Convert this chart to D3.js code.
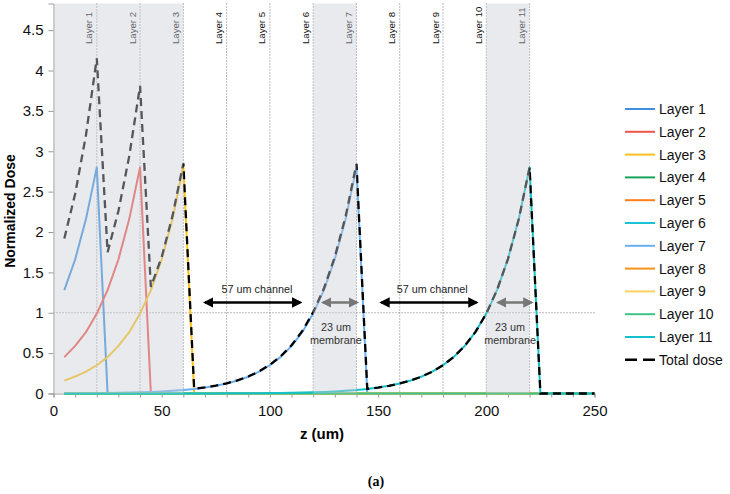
<!DOCTYPE html>
<html>
<head>
<meta charset="utf-8">
<script src="https://cdn.jsdelivr.net/npm/d3@7"></script>
<style>
  body { margin: 0; background: #fff; }
  text { font-family: "Liberation Sans", Arial, Helvetica, sans-serif; }
</style>
</head>
<body>
<script>
// depth positions (um)
var zValues = [5,10,15,20,25,30,35,40,45,50,
               55,60,65,70,75,80,85,90,95,100,
               105,110,115,120,125,130,135,140,145,150,
               155,160,165,170,175,180,185,190,195,200,
               205,210,215,220,225,230,235,240,245,250];

var layer1 = [1.28,1.66,2.16,2.80,0,0,0,0,0,0,
              0,0,0,0,0,0,0,0,0,0, 0,0,0,0,0,0,0,0,0,0,
              0,0,0,0,0,0,0,0,0,0, 0,0,0,0,0,0,0,0,0,0];
var layer2 = [0.45,0.59,0.76,0.99,1.28,1.66,2.16,2.80,0,0,
              0,0,0,0,0,0,0,0,0,0, 0,0,0,0,0,0,0,0,0,0,
              0,0,0,0,0,0,0,0,0,0, 0,0,0,0,0,0,0,0,0,0];
var layer3 = [0.16,0.21,0.27,0.35,0.45,0.59,0.76,0.99,1.28,1.66,
              2.16,2.82,0,0,0,0,0,0,0,0, 0,0,0,0,0,0,0,0,0,0,
              0,0,0,0,0,0,0,0,0,0, 0,0,0,0,0,0,0,0,0,0];
var layer4 = [0,0,0,0,0,0,0,0,0,0, 0,0,0,0,0,0,0,0,0,0, 0,0,0,0,0,0,0,0,0,0,
              0,0,0,0,0,0,0,0,0,0, 0,0,0,0,0,0,0,0,0,0];
var layer5 = [0,0,0,0,0,0,0,0,0,0, 0,0,0,0,0,0,0,0,0,0, 0,0,0,0,0,0,0,0,0,0,
              0,0,0,0,0,0,0,0,0,0, 0,0,0,0,0,0,0,0,0,0];
var layer6 = [0,0,0,0,0,0,0,0,0,0, 0,0,0,0,0,0,0,0,0,0, 0,0,0,0,0,0,0,0,0,0,
              0,0,0,0,0,0,0,0,0,0, 0,0,0,0,0,0,0,0,0,0];
var layer7 = [0.0025,0.003,0.004,0.0055,0.007,0.009,0.012,0.0155,0.02,0.026,
              0.034,0.044,0.057,0.074,0.095,0.124,0.16,0.208,0.27,0.35,
              0.454,0.588,0.763,0.99,1.284,1.665,2.16,2.80,0,0,
              0,0,0,0,0,0,0,0,0,0, 0,0,0,0,0,0,0,0,0,0];
var layer8 = [0,0,0,0,0,0,0,0,0,0, 0,0,0,0,0,0,0,0,0,0, 0,0,0,0,0,0,0,0,0,0,
              0,0,0,0,0,0,0,0,0,0, 0,0,0,0,0,0,0,0,0,0];
var layer9 = [0,0,0,0,0,0,0,0,0,0, 0,0,0,0,0,0,0,0,0,0, 0,0,0,0,0,0,0,0,0,0,
              0,0,0,0,0,0,0,0,0,0, 0,0,0,0,0,0,0,0,0,0];
var layer10 = [0,0,0,0,0,0,0,0,0,0, 0,0,0,0,0,0,0,0,0,0, 0,0,0,0,0,0,0,0,0,0,
               0,0,0,0,0,0,0,0,0,0, 0,0,0,0,0,0,0,0,0,0];
var layer11 = [0,0,0,0,0,0,0,0,0.001,0.001,
               0.001,0.001,0.001,0.0012,0.0015,0.002,0.0025,0.003,0.004,0.0055,
               0.007,0.009,0.012,0.0155,0.02,0.026,0.034,0.044,0.057,0.074,
               0.095,0.124,0.16,0.208,0.27,0.35,0.454,0.588,0.763,0.99,
               1.284,1.665,2.16,2.80,0,0,0,0,0,0];
var totalDose = [1.92,2.47,3.20,4.15,1.75,2.26,2.94,3.81,1.32,1.69,
                 2.20,2.85,0.06,0.075,0.097,0.126,0.163,0.211,0.274,0.356,
                 0.461,0.597,0.775,1.006,1.304,1.691,2.194,2.844,0.057,0.074,
                 0.095,0.124,0.16,0.208,0.27,0.35,0.454,0.588,0.763,0.99,
                 1.284,1.665,2.16,2.80,0,0,0,0,0,0];

var seriesNames = ["Layer 1","Layer 2","Layer 3","Layer 4","Layer 5","Layer 6",
                   "Layer 7","Layer 8","Layer 9","Layer 10","Layer 11"];
var seriesData = [layer1,layer2,layer3,layer4,layer5,layer6,layer7,layer8,layer9,layer10,layer11];
var seriesColors = ["#3d8fe0","#f0554c","#fcc21b","#16a35a","#fb7d1c","#1bc3d6",
                    "#6aaff0","#f6931b","#fdd35e","#3dc487","#14c1c8"];

// layer boundaries, shaded membranes, tick labels
var layerEdges = [20,40,60,80,100,120,140,160,180,200,220];
var shadedRegions = [[0,60],[120,140],[200,220]];
var xTickLabels = [0,50,100,150,200,250];
var xMinorTicks = [0,10,20,30,40,50,60,70,80,90,100,110,120,130,140,150,160,170,180,190,200,210,220,230,240,250];
var yTickLabels = [0,0.5,1,1.5,2,2.5,3,3.5,4,4.5];
var channelArrows = [[70,114],[151.5,195.5]];
var channelTextZ = [94, 175];
var membraneArrows = [[124.5,140.3],[205.4,220.9]];
var membraneTextZ = [130.5, 211];

var width = 730, height = 494;
var svg = d3.select("body").append("svg")
    .attr("width", width)
    .attr("height", height);

var x = d3.scaleLinear().domain([0, 250]).range([53.5, 594.5]);
var y = d3.scaleLinear().domain([0, 4.83]).range([393.5, 3.5]);

var line = d3.line()
    .x(function(d) { return x(d[0]); })
    .y(function(d) { return y(d[1]); });

function pairs(arr) {
  return zValues.map(function(z, i) { return [z, arr[i]]; });
}

// vertical dotted layer lines
svg.selectAll("line.edge")
  .data(layerEdges)
  .enter().append("line")
    .attr("class", "edge")
    .attr("x1", function(d) { return x(d); })
    .attr("x2", function(d) { return x(d); })
    .attr("y1", y.range()[1])
    .attr("y2", y(0))
    .attr("stroke", "#777")
    .attr("stroke-width", 1)
    .attr("stroke-dasharray", "1,2");

// horizontal dotted line at 1
svg.append("line")
    .attr("x1", x(0)).attr("x2", x(250))
    .attr("y1", y(1)).attr("y2", y(1))
    .attr("stroke", "#777")
    .attr("stroke-dasharray", "1,2");

// layer labels
svg.selectAll("text.layerlab")
  .data(layerEdges)
  .enter().append("text")
    .attr("class", "layerlab")
    .attr("transform", function(d) { return "translate(" + (x(d) - 4.5) + ",44) rotate(-90)"; })
    .attr("font-size", "9.6px")
    .attr("fill", "#111")
    .text(function(d, i) { return "Layer " + (i + 1); });

// axes
var xAxisMinor = d3.axisBottom(x).tickValues(xMinorTicks).tickSize(4).tickFormat("");
var gxm = svg.append("g")
    .attr("transform", "translate(0," + y(0) + ")")
    .call(xAxisMinor);
gxm.select(".domain").attr("stroke", "#999");
gxm.selectAll(".tick line").attr("stroke", "#999");

var xAxis = d3.axisBottom(x).tickValues(xTickLabels).tickSize(0).tickPadding(12)
    .tickFormat(function(d) { return d; });
var gx = svg.append("g")
    .attr("transform", "translate(0," + y(0) + ")")
    .call(xAxis);
gx.select(".domain").remove();
gx.selectAll("text").attr("font-size", "15px").attr("fill", "#111")
    .attr("font-family", "Liberation Sans, Arial, sans-serif");

var yAxis = d3.axisLeft(y).tickValues(yTickLabels).tickSize(5).tickPadding(5)
    .tickFormat(function(d) { return d; });
var gy = svg.append("g")
    .attr("transform", "translate(" + x(0) + ",0)")
    .call(yAxis);
gy.select(".domain").attr("stroke", "#999");
gy.selectAll(".tick line").attr("stroke", "#999");
gy.selectAll("text").attr("font-size", "15px").attr("fill", "#111")
    .attr("font-family", "Liberation Sans, Arial, sans-serif");

// series lines
seriesData.forEach(function(arr, i) {
  svg.append("path")
      .datum(pairs(arr))
      .attr("fill", "none")
      .attr("stroke", seriesColors[i])
      .attr("stroke-width", 2)
      .attr("stroke-linejoin", "round")
      .attr("d", line);
});

svg.append("path")
    .datum(pairs(totalDose))
    .attr("fill", "none")
    .attr("stroke", "#000")
    .attr("stroke-width", 2.3)
    .attr("stroke-dasharray", "8,5")
    .attr("d", line);

// translucent membrane shading drawn over the lines
svg.selectAll("rect.shade")
  .data(shadedRegions)
  .enter().append("rect")
    .attr("class", "shade")
    .attr("x", function(d) { return x(d[0]); })
    .attr("width", function(d) { return x(d[1]) - x(d[0]); })
    .attr("y", y.range()[1])
    .attr("height", y(0) - y.range()[1])
    .attr("fill", "#c9ced4")
    .attr("fill-opacity", 0.42);

// arrow markers
function addMarker(id, color) {
  var m = svg.append("defs").append("marker")
      .attr("id", id)
      .attr("viewBox", "0 0 10 10")
      .attr("refX", 8).attr("refY", 5)
      .attr("markerWidth", 4).attr("markerHeight", 4)
      .attr("orient", "auto-start-reverse");
  m.append("path").attr("d", "M0,0L10,5L0,10z").attr("fill", color);
}
addMarker("arrBlack", "#000");
addMarker("arrGray", "#777");

var yArrow = 302.5;
channelArrows.forEach(function(a, i) {
  svg.append("line")
      .attr("x1", x(a[0])).attr("x2", x(a[1]))
      .attr("y1", yArrow).attr("y2", yArrow)
      .attr("stroke", "#000").attr("stroke-width", 2.6)
      .attr("marker-start", "url(#arrBlack)")
      .attr("marker-end", "url(#arrBlack)");
  svg.append("text")
      .attr("x", x(channelTextZ[i]))
      .attr("y", 292.5)
      .attr("text-anchor", "middle")
      .attr("font-size", "10.8px")
      .attr("fill", "#222")
      .text("57 um channel");
});

membraneArrows.forEach(function(a, i) {
  svg.append("line")
      .attr("x1", x(a[0])).attr("x2", x(a[1]))
      .attr("y1", yArrow).attr("y2", yArrow)
      .attr("stroke", "#777").attr("stroke-width", 2.6)
      .attr("marker-start", "url(#arrGray)")
      .attr("marker-end", "url(#arrGray)");
  var cx = x(membraneTextZ[i]);
  svg.append("text")
      .attr("x", cx).attr("y", 330.5)
      .attr("text-anchor", "middle")
      .attr("font-size", "10.8px").attr("fill", "#333")
      .text("23 um");
  svg.append("text")
      .attr("x", cx).attr("y", 343.5)
      .attr("text-anchor", "middle")
      .attr("font-size", "10.8px").attr("fill", "#333")
      .text("membrane");
});

// axis titles
svg.append("text")
    .attr("transform", "translate(15,211) rotate(-90)")
    .attr("text-anchor", "middle")
    .attr("font-size", "14px")
    .attr("font-weight", "bold")
    .text("Normalized Dose");

svg.append("text")
    .attr("x", 322).attr("y", 439)
    .attr("text-anchor", "middle")
    .attr("font-size", "15px")
    .attr("font-weight", "bold")
    .text("z (um)");

svg.append("text")
    .attr("x", 376).attr("y", 486)
    .attr("text-anchor", "middle")
    .attr("font-size", "14px")
    .attr("font-weight", "bold")
    .style("font-family", "'Liberation Serif', 'DejaVu Serif', serif")
    .text("(a)");

// legend
var legendNames = seriesNames.concat(["Total dose"]);
var legend = svg.selectAll("g.legend")
  .data(legendNames)
  .enter().append("g")
    .attr("class", "legend")
    .attr("transform", function(d, i) { return "translate(625," + (109 + i * 22.8) + ")"; });

legend.append("line")
    .attr("x1", 0).attr("x2", 30)
    .attr("y1", 0).attr("y2", 0)
    .attr("stroke", function(d, i) { return i < 11 ? seriesColors[i] : "#000"; })
    .attr("stroke-width", function(d, i) { return i < 11 ? 2 : 2.5; })
    .attr("stroke-dasharray", function(d, i) { return i < 11 ? null : "12,6"; });

legend.append("text")
    .attr("x", 34).attr("y", 5)
    .attr("font-size", "14px")
    .attr("fill", "#111")
    .text(function(d) { return d; });
</script>
</body>
</html>
